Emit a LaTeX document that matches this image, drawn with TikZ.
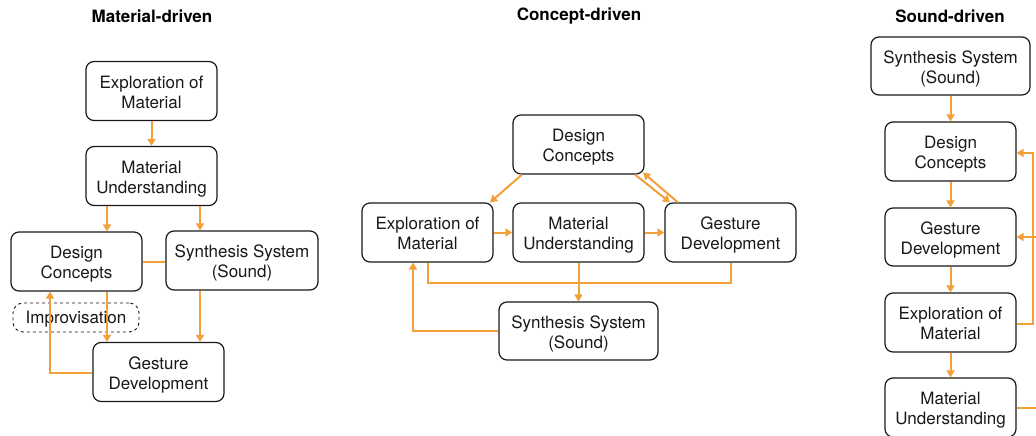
\documentclass[tikz,border=0pt]{standalone}
\usepackage{fontspec}
\setmainfont{TeX Gyre Heros}
\usetikzlibrary{arrows.meta}
\definecolor{org}{RGB}{242,160,58}
\definecolor{ink}{RGB}{25,25,25}
\newcommand{\twol}[2]{\rule{0pt}{18.5pt}#1\\#2\rule[-4pt]{0pt}{0pt}}
\tikzset{
  box/.style={draw=ink, line width=1.2pt, rounded corners=8pt, align=center,
    font=\fontsize{17}{20}\selectfont, text=ink, minimum width=131pt, minimum height=59pt, inner sep=0pt, fill=white},
  wide/.style={minimum width=159pt},
  dbox/.style={draw=ink, line width=0.9pt, dashed, rounded corners=10pt, align=center,
    font=\fontsize{17}{20}\selectfont, text=ink, minimum width=126pt, minimum height=29pt, inner sep=0pt, text depth=0pt},
  ttl/.style={font=\bfseries\fontsize{17}{20}\selectfont, text=black},
  ln/.style={draw=org, line width=2pt},
  arr/.style={ln, -{Triangle[width=8pt,length=7pt]}}
}
\begin{document}
\begin{tikzpicture}[x=1pt,y=-1pt]
\useasboundingbox (0,0) rectangle (1036,436);
\clip (0,0) rectangle (1036,436);
\fill[white] (0,0) rectangle (1036,436);
% titles
\node[ttl] (t1) at (152,16) {Material-driven};
\node[ttl] (t2) at (579,16) {Concept-driven};
\node[ttl] (t3) at (950,16) {Sound-driven};
% ---------------- left
\node[box] (ex1) at (151.5,91) {\twol{Exploration of}{Material}};
\node[box] (mu1) at (151.5,176) {\twol{Material}{Understanding}};
\node[box] (dc1) at (76.5,261.5) {\twol{Design}{Concepts}};
\node[box, minimum width=152pt] (ss1) at (242,260.5) {\twol{Synthesis System}{(Sound)}};
\node[dbox] (imp) at (76,317.5) {Improvisation};
\node[box] (gd1) at (158.5,372) {\twol{Gesture}{Development}};
\draw[arr] (ex1.south) -- (mu1.north);
\draw[arr] ([xshift=-44.5pt]mu1.south) -- ([xshift=-44.5pt]mu1.south |- dc1.north);
\draw[arr] ([xshift=48.5pt]mu1.south) -- ([xshift=48.5pt]mu1.south |- ss1.north);
\draw[ln] (dc1.east) -- (dc1.east -| ss1.west);
\draw[arr] ([xshift=30.5pt]dc1.south) -- ([xshift=30.5pt]dc1.south |- gd1.north);
\draw[arr] ([xshift=-42pt]ss1.south) -- ([xshift=-42pt]ss1.south |- gd1.north);
\draw[arr] ([yshift=-1pt]gd1.west) -| ([xshift=-26.5pt]dc1.south);
% ---------------- middle
\node[box] (dc2) at (578.5,144.5) {\twol{Design}{Concepts}};
\node[box] (ex2) at (427.5,232.5) {\twol{Exploration of}{Material}};
\node[box] (mu2) at (578.5,232.5) {\twol{Material}{Understanding}};
\node[box] (gd2) at (730.5,232.5) {\twol{Gesture}{Development}};
\node[box, wide, minimum height=58pt] (ss2) at (578.5,331) {\twol{Synthesis System}{(Sound)}};
\draw[arr] ([xshift=-56.5pt]dc2.south) -- ([xshift=62.5pt]ex2.north);
\draw[arr] ([xshift=56.5pt]dc2.south) -- ([xshift=-60.5pt]gd2.north);
\draw[arr] ([xshift=-52.5pt]gd2.north) -- ([xshift=64.5pt,yshift=2pt]dc2.south);
\draw[arr] (ex2.east) -- (mu2.west);
\draw[arr] (mu2.east) -- (gd2.west);
\draw[ln] (ex2.south) -- ++(0,20) -| (gd2.south);
\draw[arr] (mu2.south) -- (ss2.north);
\draw[arr] (ss2.west) -| ([xshift=-14.5pt]ex2.south);
% ---------------- right
\node[box, wide, minimum height=58pt] (ss3) at (950.5,66) {\twol{Synthesis System}{(Sound)}};
\node[box] (dc3) at (950.5,151.5) {\twol{Design}{Concepts}};
\node[box, minimum height=58pt] (gd3) at (950.5,237) {\twol{Gesture}{Development}};
\node[box] (ex3) at (950.5,322.5) {\twol{Exploration of}{Material}};
\node[box] (mu3) at (950.5,407.5) {\twol{Material}{Understanding}};
\draw[arr] (ss3.south) -- (dc3.north);
\draw[arr] (dc3.south) -- (gd3.north);
\draw[arr] (gd3.south) -- (ex3.north);
\draw[arr] (ex3.south) -- (mu3.north);
\draw[arr] ([yshift=-1.5pt]ex3.east) -- ++(16,0) |- ([yshift=-1.5pt]dc3.east);
\draw[arr] (mu3.east) -- ++(32,0) |- (gd3.east);
\end{tikzpicture}
\end{document}
